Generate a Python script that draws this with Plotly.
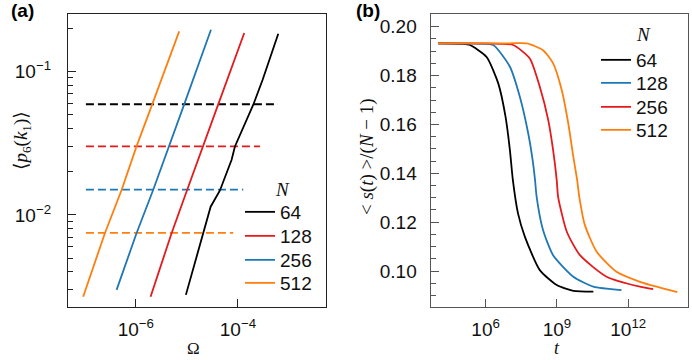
import plotly.graph_objects as go

# ---------------- Panel (a) data ----------------
N_labels = ["64", "128", "256", "512"]
colors_a = ["#000000", "#e41a1c", "#1f77b4", "#ff7f0e"]

omega_64 = [9.55e-6, 2.09e-5, 2.92e-5, 4.44e-5, 7.52e-5, 8.73e-5, 1.06e-4, 2.00e-4, 3.05e-4, 6.17e-4]
p6_64 = [2.77e-3, 7.52e-3, 1.14e-2, 1.48e-2, 2.42e-2, 3.00e-2, 3.52e-2, 5.86e-2, 8.75e-2, 0.183]

omega_128 = [1.94e-6, 3.43e-6, 5.01e-6, 1.01e-5, 2.09e-5, 4.11e-5, 1.33e-4]
p6_128 = [2.69e-3, 4.99e-3, 7.45e-3, 1.49e-2, 3.00e-2, 5.89e-2, 0.185]

omega_256 = [4.19e-7, 1.03e-6, 2.18e-6, 4.50e-6, 8.85e-6, 2.96e-5]
p6_256 = [3.00e-3, 7.45e-3, 1.49e-2, 3.00e-2, 5.89e-2, 0.195]

omega_512 = [9.27e-8, 2.47e-7, 5.25e-7, 1.03e-6, 2.09e-6, 7.06e-6]
p6_512 = [2.69e-3, 7.45e-3, 1.49e-2, 3.00e-2, 5.89e-2, 0.190]

# horizontal dashed reference levels
ref_level = [0.059, 0.030, 0.015, 0.0075]
ref_omega_start = [1.05e-7, 1.05e-7, 1.05e-7, 1.05e-7]
ref_omega_end = [6.1e-4, 2.7e-4, 1.27e-4, 8.1e-5]

# ---------------- Panel (b) data ----------------
colors_b = ["#000000", "#1f77b4", "#e41a1c", "#ff7f0e"]

t_64 = [1e4, 1e5, 2.2e5, 1.1e6, 3.4e6, 6.9e6, 1.05e7, 1.4e7, 2.3e7, 4.5e7, 1.9e8, 9.8e8, 4.9e9, 3.4e10]
s_64 = [0.1932, 0.1930, 0.1925, 0.1876, 0.1768, 0.1631, 0.1495, 0.1372, 0.1236, 0.1140, 0.1004, 0.0943, 0.0919, 0.0916]

t_128 = [1e4, 1e5, 5.8e5, 2.1e6, 1.05e7, 2.75e7, 6.2e7, 9.5e7, 1.2e8, 1.4e8, 2.6e8, 6.9e8, 4.9e9, 3.4e10, 5.2e11]
s_128 = [0.1932, 0.1932, 0.1930, 0.1925, 0.1836, 0.1713, 0.1563, 0.1454, 0.1372, 0.1304, 0.1168, 0.1065, 0.0977, 0.0936, 0.0922]

t_256 = [1e4, 1e5, 1e6, 4e6, 1.45e7, 7.2e7, 1.9e8, 4.3e8, 6.9e8, 9.8e8, 1.12e9, 2.6e9, 9.3e9, 1.23e11, 3.1e12, 1.12e13]
s_256 = [0.1932, 0.1932, 0.1932, 0.1930, 0.1925, 0.1870, 0.1754, 0.1618, 0.1495, 0.1372, 0.1304, 0.1161, 0.1065, 0.0977, 0.0936, 0.0926]

t_512 = [1e4, 1e5, 1e6, 1e7, 5.4e7, 2.6e8, 6.9e8, 1.6e9, 3.0e9, 4.9e9, 7.1e9, 8.7e9, 1.5e10, 4.7e10, 3.2e11, 3.1e12, 1.55e13, 1.15e14]
s_512 = [0.1932, 0.1932, 0.1932, 0.1932, 0.1932, 0.1904, 0.1850, 0.1740, 0.1604, 0.1467, 0.1372, 0.1304, 0.1188, 0.1079, 0.0997, 0.0956, 0.0936, 0.0914]

# tick definitions
xa_ticks = [1e-6, 1e-4]
xa_ticktext = ["10<sup>−6</sup>", "10<sup>−4</sup>"]
ya_ticks = [1e-2, 1e-1]
ya_ticktext = ["10<sup>−2</sup>", "10<sup>−1</sup>"]
ya_minor = [k * 10.0 ** e for e in (-3, -2, -1) for k in range(2, 10)]
xb_ticks = [1e6, 1e9, 1e12]
xb_ticktext = ["10<sup>6</sup>", "10<sup>9</sup>", "10<sup>12</sup>"]
yb_ticks = [0.10, 0.12, 0.14, 0.16, 0.18, 0.20]
yb_ticktext = ["0.10", "0.12", "0.14", "0.16", "0.18", "0.20"]

W, H = 692, 360
SANS = "Liberation Sans, Arial, sans-serif"
SERIF = "Liberation Serif, DejaVu Serif, serif"
LW = 1.8


def px_x(p):
    return p / W


def px_y(p):
    return 1 - p / H


# legend placement (pixels): left panel / right panel
leg_a_x, leg_a_rows = 240, [212, 236, 260, 283]
leg_b_x, leg_b_rows = 596, [60, 83, 107, 130]
leg_a_names = ["legend", "legend2", "legend3", "legend4"]
leg_b_names = ["legend5", "legend6", "legend7", "legend8"]

fig = go.Figure()

curves_a = [(omega_64, p6_64), (omega_128, p6_128), (omega_256, p6_256), (omega_512, p6_512)]
for i, (om, p) in enumerate(curves_a):
    fig.add_trace(go.Scatter(x=[ref_omega_start[i], ref_omega_end[i]], y=[ref_level[i], ref_level[i]],
                             mode="lines", line=dict(color=colors_a[i], width=LW, dash="8px,4px"),
                             showlegend=False, xaxis="x", yaxis="y", hoverinfo="skip"))
for i, (om, p) in enumerate(curves_a):
    fig.add_trace(go.Scatter(x=om, y=p, mode="lines", name=N_labels[i],
                             line=dict(color=colors_a[i], width=LW),
                             xaxis="x", yaxis="y", legend=leg_a_names[i]))

curves_b = [(t_64, s_64), (t_128, s_128), (t_256, s_256), (t_512, s_512)]
for i, (t, s) in enumerate(curves_b):
    fig.add_trace(go.Scatter(x=t, y=s, mode="lines", name=N_labels[i],
                             line=dict(color=colors_b[i], width=LW, shape="spline", smoothing=0.6),
                             xaxis="x2", yaxis="y2", legend=leg_b_names[i]))

axis_common = dict(showline=True, mirror=True, ticks="inside", showgrid=False, zeroline=False,
                   automargin=False, tickfont=dict(family=SANS, size=19, color="#111"))

legend_layout = {}
for name, row in zip(leg_a_names, leg_a_rows):
    legend_layout[name] = dict(x=px_x(leg_a_x), y=px_y(row), xanchor="left", yanchor="middle",
                               bgcolor="rgba(0,0,0,0)", borderwidth=0,
                               font=dict(family=SANS, size=19, color="#111"), itemwidth=30)
for name, row in zip(leg_b_names, leg_b_rows):
    legend_layout[name] = dict(x=px_x(leg_b_x), y=px_y(row), xanchor="left", yanchor="middle",
                               bgcolor="rgba(0,0,0,0)", borderwidth=0,
                               font=dict(family=SANS, size=19, color="#111"), itemwidth=30)

fig.update_layout(
    width=W, height=H,
    margin=dict(l=0, r=0, t=0, b=0, autoexpand=False),
    paper_bgcolor="white", plot_bgcolor="white",
    font=dict(family=SANS, size=18, color="#111"),
    xaxis=dict(axis_common, type="log", domain=[px_x(68), px_x(325.7)],
               range=[-7.33, -2.28], tickvals=xa_ticks, ticktext=xa_ticktext,
               linecolor="#222", linewidth=1.3, ticklen=8, tickcolor="#222",
               anchor="y", ticklabelstandoff=5),
    yaxis=dict(axis_common, type="log", domain=[px_y(307), px_y(14)],
               range=[-2.642, -0.60], tickvals=ya_ticks, ticktext=ya_ticktext,
               linecolor="#222", linewidth=1.3, ticklen=8, tickcolor="#222",
               minor=dict(tickvals=ya_minor, ticks="inside", ticklen=5, tickcolor="#222", showgrid=False),
               anchor="x", ticklabelstandoff=12),
    xaxis2=dict(axis_common, type="log", domain=[px_x(430.7), px_x(687.7)],
                range=[3.69, 14.5], tickvals=xb_ticks, ticktext=xb_ticktext,
                linecolor="#555", linewidth=1.3, ticklen=8, tickcolor="#555",
                anchor="y2", ticklabelstandoff=5),
    yaxis2=dict(axis_common, domain=[px_y(307), px_y(14)],
                range=[0.0853, 0.2052], tickvals=yb_ticks, ticktext=yb_ticktext,
                linecolor="#555", linewidth=1.3, ticklen=8, tickcolor="#555",
                minor=dict(dtick=0.005, ticks="inside", ticklen=5, tickcolor="#555", showgrid=False),
                anchor="x2", ticklabelstandoff=9),
    annotations=[
        dict(text="<b>(a)</b>", x=px_x(9), y=px_y(10), xref="paper", yref="paper",
             xanchor="left", yanchor="middle", showarrow=False,
             font=dict(family=SANS, size=19, color="#000")),
        dict(text="<b>(b)</b>", x=px_x(354), y=px_y(10), xref="paper", yref="paper",
             xanchor="left", yanchor="middle", showarrow=False,
             font=dict(family=SANS, size=19, color="#000")),
        dict(text="<i>N</i>", x=px_x(282), y=px_y(189), xref="paper", yref="paper",
             xanchor="center", yanchor="middle", showarrow=False,
             font=dict(family=SERIF, size=19, color="#111")),
        dict(text="<i>N</i>", x=px_x(643), y=px_y(34), xref="paper", yref="paper",
             xanchor="center", yanchor="middle", showarrow=False,
             font=dict(family=SERIF, size=19, color="#111")),
        dict(text="Ω", x=px_x(193), y=0, xref="paper", yref="paper",
             xanchor="center", yanchor="bottom", showarrow=False,
             font=dict(family=SERIF, size=17, color="#111")),
        dict(text="<i>t</i>", x=px_x(557), y=0, xref="paper", yref="paper",
             xanchor="center", yanchor="bottom", showarrow=False,
             font=dict(family=SERIF, size=18, color="#111")),
        dict(text="⟨<i>p</i><sub>6</sub>(<i>k</i><sub>1</sub>)⟩", x=px_x(22), y=px_y(141),
             xref="paper", yref="paper", xanchor="center", yanchor="middle",
             showarrow=False, textangle=-90,
             font=dict(family=SERIF, size=19, color="#111")),
        dict(text="< <i>s</i>(<i>t</i>) >/(<i>N</i> − 1)", x=px_x(367), y=px_y(157),
             xref="paper", yref="paper", xanchor="center", yanchor="middle",
             showarrow=False, textangle=-90,
             font=dict(family=SERIF, size=19, color="#111")),
    ],
    **legend_layout,
)

fig.write_html("out.html", config={"displayModeBar": False},
               post_script="document.body.style.margin='0';")
